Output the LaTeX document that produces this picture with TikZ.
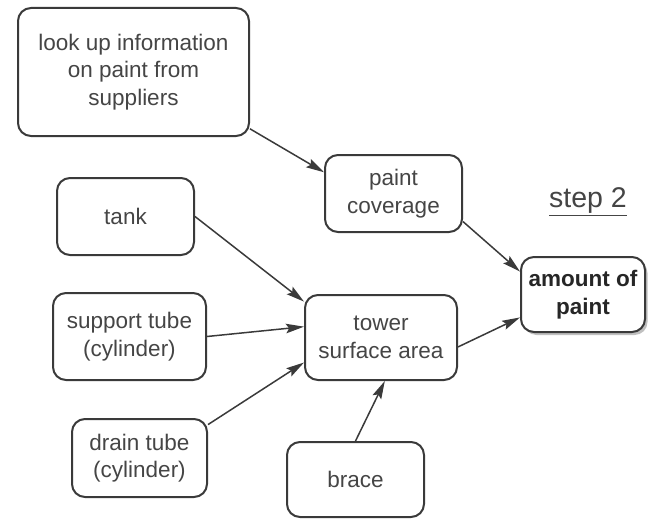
\documentclass[tikz,border=0pt]{standalone}
\usepackage{fontspec}
\setmainfont{Liberation Sans}
\usetikzlibrary{arrows.meta,shadows}
\definecolor{ink}{HTML}{3A3A3A}
\definecolor{txt}{HTML}{454545}
\begin{document}
\begin{tikzpicture}[x=1pt,y=-1pt,
  box/.style={draw=ink, line width=2pt, rounded corners=13pt, fill=white,
    align=center, text=txt, inner sep=0pt,
    font=\fontsize{22.5}{27.5}\selectfont},
  link/.style={draw=ink, line width=1.5pt,
    -{Stealth[length=18pt,width=9.5pt,inset=3pt]}}]
\useasboundingbox (0,0) rectangle (650,519);

% information sources
\node[box, minimum width=231pt, minimum height=128pt] (lookup) at (133.5,72)
  {look up information\\on paint from\\suppliers};
\node[box, minimum width=137pt, minimum height=77pt] (coverage) at (393.5,193.5)
  {paint\\coverage};

% tower components
\node[box, minimum width=137pt, minimum height=77pt] (tank) at (125.5,216.5) {tank};
\node[box, minimum width=153pt, minimum height=87pt] (support) at (129.5,336.5)
  {support tube\\(cylinder)};
\node[box, minimum width=135pt, minimum height=78pt] (drain) at (139.5,458)
  {drain tube\\(cylinder)};
\node[box, minimum width=137pt, minimum height=75pt] (brace) at (355.5,479.5) {brace};

% intermediate and final quantities
\node[box, minimum width=152pt, minimum height=85pt] (tower) at (381,337.5)
  {tower\\surface area};
\node[box, minimum width=124pt, minimum height=75pt, text=black!85,
  font=\fontsize{22.5}{27.5}\selectfont\bfseries,
  drop shadow={shadow xshift=2.5pt, shadow yshift=-3pt, fill=black!45, opacity=0.55}]
  (amount) at (583,294.5) {amount of\\paint};

% step label
\node[text=txt, font=\fontsize{28.5}{32}\selectfont, inner sep=0pt] (steplabel) at (588,202)
  {\underline{step 2}};

% dependencies
\draw[link] (lookup.-26) -- (coverage.163);
\draw[link] (coverage.-22.6) -- (amount.160);
\draw[link] (tank.east) -- (tower.155);
\draw[link] (support.east) -- (tower.172);
\draw[link] (drain.26.7) -- (tower.198.5);
\draw[link] (brace.north) -- (tower.-85);
\draw[link] (tower.-7.9) -- (amount.200.8);
\end{tikzpicture}
\end{document}
